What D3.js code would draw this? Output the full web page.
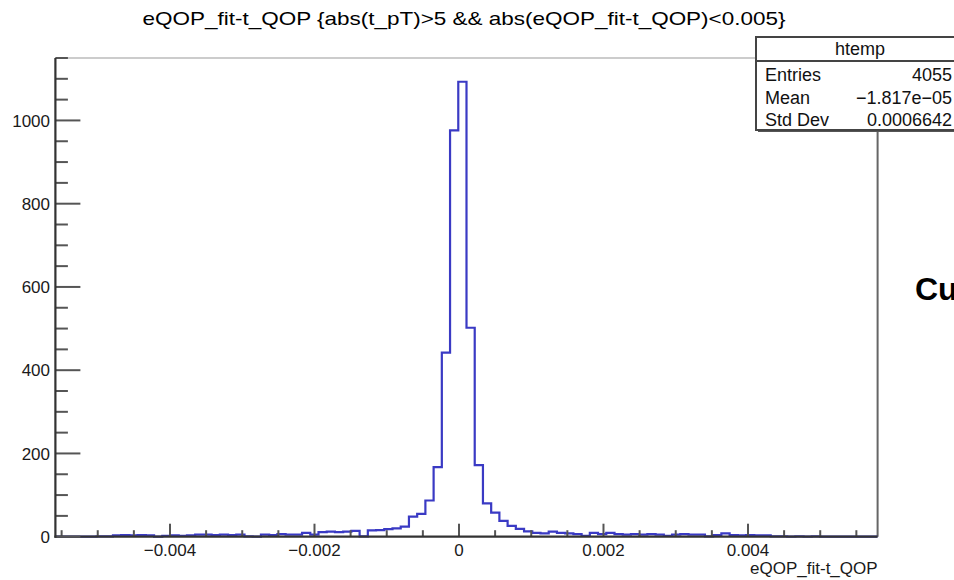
<!DOCTYPE html>
<html>
<head>
<meta charset="utf-8">
<script src="https://cdn.jsdelivr.net/npm/d3@7"></script>
<style>
  html, body { margin: 0; padding: 0; background: #ffffff; }
  svg { display: block; font-family: "Liberation Sans", Arial, Helvetica, sans-serif; }
</style>
</head>
<body>
<svg id="chart" width="954" height="580"></svg>
<script>
// ---- data ----
const histName = "htemp";
const titleText = "eQOP_fit-t_QOP {abs(t_pT)>5 && abs(eQOP_fit-t_QOP)<0.005}";
const xAxisTitle = "eQOP_fit-t_QOP";
const xMin = -0.005586;
const xMax = 0.005794;
const nBins = 100;
const binCounts = [
  0, 0, 0, 0, 0, 1, 1, 3, 4, 3,
  4, 3, 0, 2, 3, 2, 3, 5, 5, 4,
  5, 4, 5, 1, 0, 5, 4, 6, 5, 5,
  9, 5, 11, 12, 11, 12, 14, 1, 15, 16,
  18, 20, 24, 48, 55, 87, 167, 442, 976, 1093,
  502, 172, 80, 58, 38, 26, 19, 13, 9, 8,
  12, 9, 8, 6, 2, 9, 6, 9, 6, 5,
  6, 5, 6, 5, 2, 5, 6, 5, 5, 1,
  4, 8, 4, 3, 4, 3, 3, 1, 1, 0,
  1, 0, 1, 0, 0, 0, 0, 0, 0, 0
];
const xMajorTicks = [-0.004, -0.002, 0, 0.002, 0.004];
const xTickLabels = ["\u22120.004", "\u22120.002", "0", "0.002", "0.004"];
const yMajorTicks = [0, 200, 400, 600, 800, 1000];
const yTickLabels = ["0", "200", "400", "600", "800", "1000"];
const statLabels = ["Entries", "Mean", "Std Dev"];
const statValues = ["4055", "\u22121.817e\u221205", "0.0006642"];
const sideText = "Cu";

// ---- layout ----
const frame = { left: 55.4, right: 877.6, top: 58, bottom: 536.7 };
const yMax = 1150;

const svg = d3.select("#chart");

const x = d3.scaleLinear().domain([xMin, xMax]).range([frame.left, frame.right]);
const y = d3.scaleLinear().domain([0, yMax]).range([frame.bottom, frame.top]);

// frame (top & right)
svg.append("line").attr("x1", frame.left).attr("x2", frame.right)
  .attr("y1", frame.top).attr("y2", frame.top)
  .attr("stroke", "#999").attr("stroke-width", 1.2);
svg.append("line").attr("x1", frame.right).attr("x2", frame.right)
  .attr("y1", frame.top).attr("y2", frame.bottom)
  .attr("stroke", "#666").attr("stroke-width", 2);

// histogram outline
const binW = (xMax - xMin) / nBins;
const pts = [];
binCounts.forEach((c, i) => {
  pts.push([xMin + i * binW, c]);
  pts.push([xMin + (i + 1) * binW, c]);
});
svg.append("defs").append("clipPath").attr("id", "clipFrame")
  .append("rect").attr("x", frame.left).attr("y", frame.top)
  .attr("width", frame.right - frame.left).attr("height", frame.bottom - frame.top + 2);
const line = d3.line().x(d => x(d[0])).y(d => y(d[1]));
svg.append("path").datum(pts)
  .attr("clip-path", "url(#clipFrame)")
  .attr("d", line)
  .attr("fill", "none")
  .attr("stroke", "#3a3ac4")
  .attr("stroke-width", 2.2)
  .attr("stroke-linejoin", "miter");

// x axis ticks
const xMinor = d3.range(-0.0055, 0.00551, 0.0005).filter(v => v >= xMin && v <= xMax);
const xAxis = svg.append("g");
xAxis.selectAll("line.minor").data(xMinor).join("line")
  .attr("x1", d => x(d)).attr("x2", d => x(d))
  .attr("y1", frame.bottom).attr("y2", d => {
    const isMajor = xMajorTicks.some(t => Math.abs(t - d) < 1e-9);
    return frame.bottom - (isMajor ? 13 : 6.5);
  })
  .attr("stroke", "#555").attr("stroke-width", 2);
xAxis.selectAll("text").data(xMajorTicks).join("text")
  .attr("x", d => x(d)).attr("y", 556)
  .attr("text-anchor", "middle")
  .attr("font-size", 17).attr("fill", "#1a1a1a")
  .text((d, i) => xTickLabels[i]);
xAxis.append("line").attr("x1", frame.left - 1).attr("x2", frame.right)
  .attr("y1", frame.bottom).attr("y2", frame.bottom)
  .attr("stroke", "#333").attr("stroke-width", 2.2);
svg.append("text").attr("x", frame.right).attr("y", 574)
  .attr("text-anchor", "end").attr("font-size", 17).attr("fill", "#1a1a1a")
  .text(xAxisTitle);

// y axis ticks
const yMinor = d3.range(0, yMax + 0.1, 50);
const yAxis = svg.append("g");
yAxis.selectAll("line").data(yMinor).join("line")
  .attr("x1", frame.left).attr("x2", d => frame.left + (d % 200 === 0 ? 25 : 12.5))
  .attr("y1", d => y(d)).attr("y2", d => y(d))
  .attr("stroke", "#555").attr("stroke-width", 2);
yAxis.selectAll("text").data(yMajorTicks).join("text")
  .attr("x", 50).attr("y", d => y(d)).attr("dy", "0.36em")
  .attr("text-anchor", "end")
  .attr("font-size", 17).attr("fill", "#1a1a1a")
  .text((d, i) => yTickLabels[i]);
yAxis.append("line").attr("x1", frame.left).attr("x2", frame.left)
  .attr("y1", frame.top).attr("y2", frame.bottom + 1)
  .attr("stroke", "#333").attr("stroke-width", 2.2);

// title
svg.append("text").attr("x", 464).attr("y", 25)
  .attr("text-anchor", "middle").attr("font-size", 18.5).attr("fill", "#000")
  .attr("textLength", 643).attr("lengthAdjust", "spacingAndGlyphs")
  .text(titleText);

// stats box
const box = { x: 756, y: 37, w: 208, h: 93, header: 61 };
svg.append("rect").attr("x", box.x + 2).attr("y", box.y + 2)
  .attr("width", box.w).attr("height", box.h).attr("fill", "#555");
svg.append("rect").attr("x", box.x).attr("y", box.y)
  .attr("width", box.w).attr("height", box.h)
  .attr("fill", "#fff").attr("stroke", "#444").attr("stroke-width", 2);
svg.append("line").attr("x1", box.x).attr("x2", box.x + box.w)
  .attr("y1", box.header).attr("y2", box.header)
  .attr("stroke", "#444").attr("stroke-width", 2);
svg.append("text").attr("x", 860).attr("y", 55)
  .attr("text-anchor", "middle").attr("font-size", 18).attr("fill", "#111")
  .text(histName);
const rowY = [81, 103.5, 126];
svg.selectAll("text.slab").data(statLabels).join("text").attr("class", "slab")
  .attr("x", 765).attr("y", (d, i) => rowY[i])
  .attr("font-size", 18).attr("fill", "#111").text(d => d);
svg.selectAll("text.sval").data(statValues).join("text").attr("class", "sval")
  .attr("x", 952).attr("y", (d, i) => rowY[i])
  .attr("text-anchor", "end")
  .attr("font-size", 18).attr("fill", "#111").text(d => d);

// side text (cut off at right edge, as in the reference)
svg.append("text").attr("x", 915).attr("y", 300)
  .attr("font-size", 32).attr("font-weight", "bold").attr("fill", "#000")
  .text(sideText);
</script>
</body>
</html>
